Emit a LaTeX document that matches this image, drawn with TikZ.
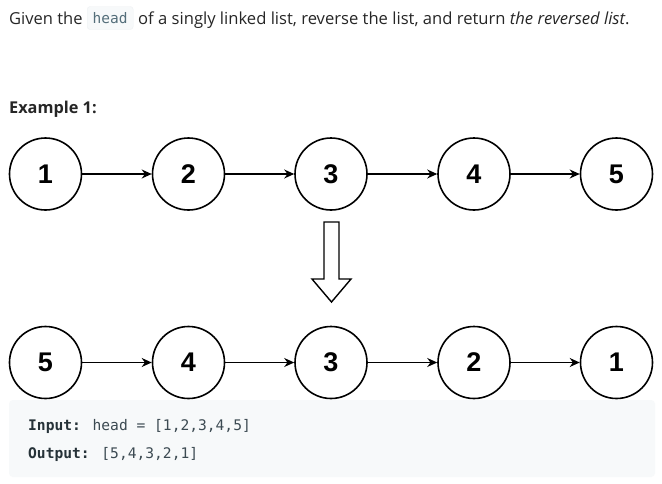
\documentclass[tikz,border=0pt]{standalone}
\usepackage{fontspec}
\setmainfont{Open Sans}
\newfontfamily\numfont{Liberation Sans}
\newfontfamily\codefont{DejaVu Sans Mono}
\usetikzlibrary{arrows.meta}
\definecolor{txt}{HTML}{262626}
\definecolor{codebg}{HTML}{F7F9FA}
\definecolor{codeborder}{HTML}{EEF1F3}
\definecolor{codetxt}{HTML}{546E7A}
\definecolor{codedark}{HTML}{263238}
\definecolor{codemid}{HTML}{3C4A52}
\tikzset{
  lnode/.style={circle, draw=black, line width=1.6pt, minimum size=72pt, inner sep=0pt,
    font=\numfont\bfseries\fontsize{27}{27}\selectfont},
  link/.style={line width=1.3pt, -{Stealth[length=10pt,width=9pt]}},
  para/.style={inner sep=0pt, anchor=base west, text=txt},
}
\begin{document}
\begin{tikzpicture}[x=1pt,y=-1pt]
\useasboundingbox[fill=white] (0,0) rectangle (662,483);
% title line
\node[para, font=\fontsize{16.5}{18}\selectfont] (t1) at (9,24) {Given the};
\node[fill=codebg, draw=codeborder, rounded corners=3pt, inner xsep=4pt, inner ysep=0pt,
      minimum height=23pt, minimum width=46pt, anchor=west, text=codetxt,
      font=\codefont\fontsize{14.5}{15}\selectfont] (hd) at (87,18) {head};
\node[para, font=\fontsize{16.6}{18}\selectfont] (t2) at (138,24)
  {of a singly linked list, reverse the list, and return \textit{the reversed list}.};
\node[para, font=\bfseries\fontsize{16.3}{18}\selectfont] (ex) at (9,113) {Example 1:};
% top row
\node[lnode] (n1) at (45.5,174) {1};
\node[lnode] (n2) at (188.5,174) {2};
\node[lnode] (n3) at (331,174) {3};
\node[lnode] (n4) at (474,174) {4};
\node[lnode] (n5) at (616.5,174) {5};
\draw[link] (n1) -- (n2);
\draw[link] (n2) -- (n3);
\draw[link] (n3) -- (n4);
\draw[link] (n4) -- (n5);
% hollow down arrow
\draw[line width=1.4pt, line join=miter] (324,222) -- (339,222) -- (339,279) -- (351,279)
  -- (331.5,302) -- (312,279) -- (324,279) -- cycle;
% code box (drawn before bottom row so circles lie on top)
\fill[codebg] (9,400) [rounded corners=4pt] rectangle (655,477);
% bottom row
\node[lnode] (m5) at (45.5,362.5) {5};
\node[lnode] (m4) at (188.5,362.5) {4};
\node[lnode] (m3) at (331,362.5) {3};
\node[lnode] (m2) at (474,362.5) {2};
\node[lnode] (m1) at (616.5,362.5) {1};
\draw[link] (m5) -- (m4);
\draw[link] (m4) -- (m3);
\draw[link] (m3) -- (m2);
\draw[link] (m2) -- (m1);
% code text
\node[para, text=codemid, font=\codefont\fontsize{14.6}{16}\selectfont] (in) at (28,430)
  {\textcolor{codedark}{\textbf{Input:}} head = [1,2,3,4,5]};
\node[para, text=codemid, font=\codefont\fontsize{14.6}{16}\selectfont] (out) at (28,458)
  {\textcolor{codedark}{\textbf{Output:}} [5,4,3,2,1]};
\end{tikzpicture}
\end{document}
